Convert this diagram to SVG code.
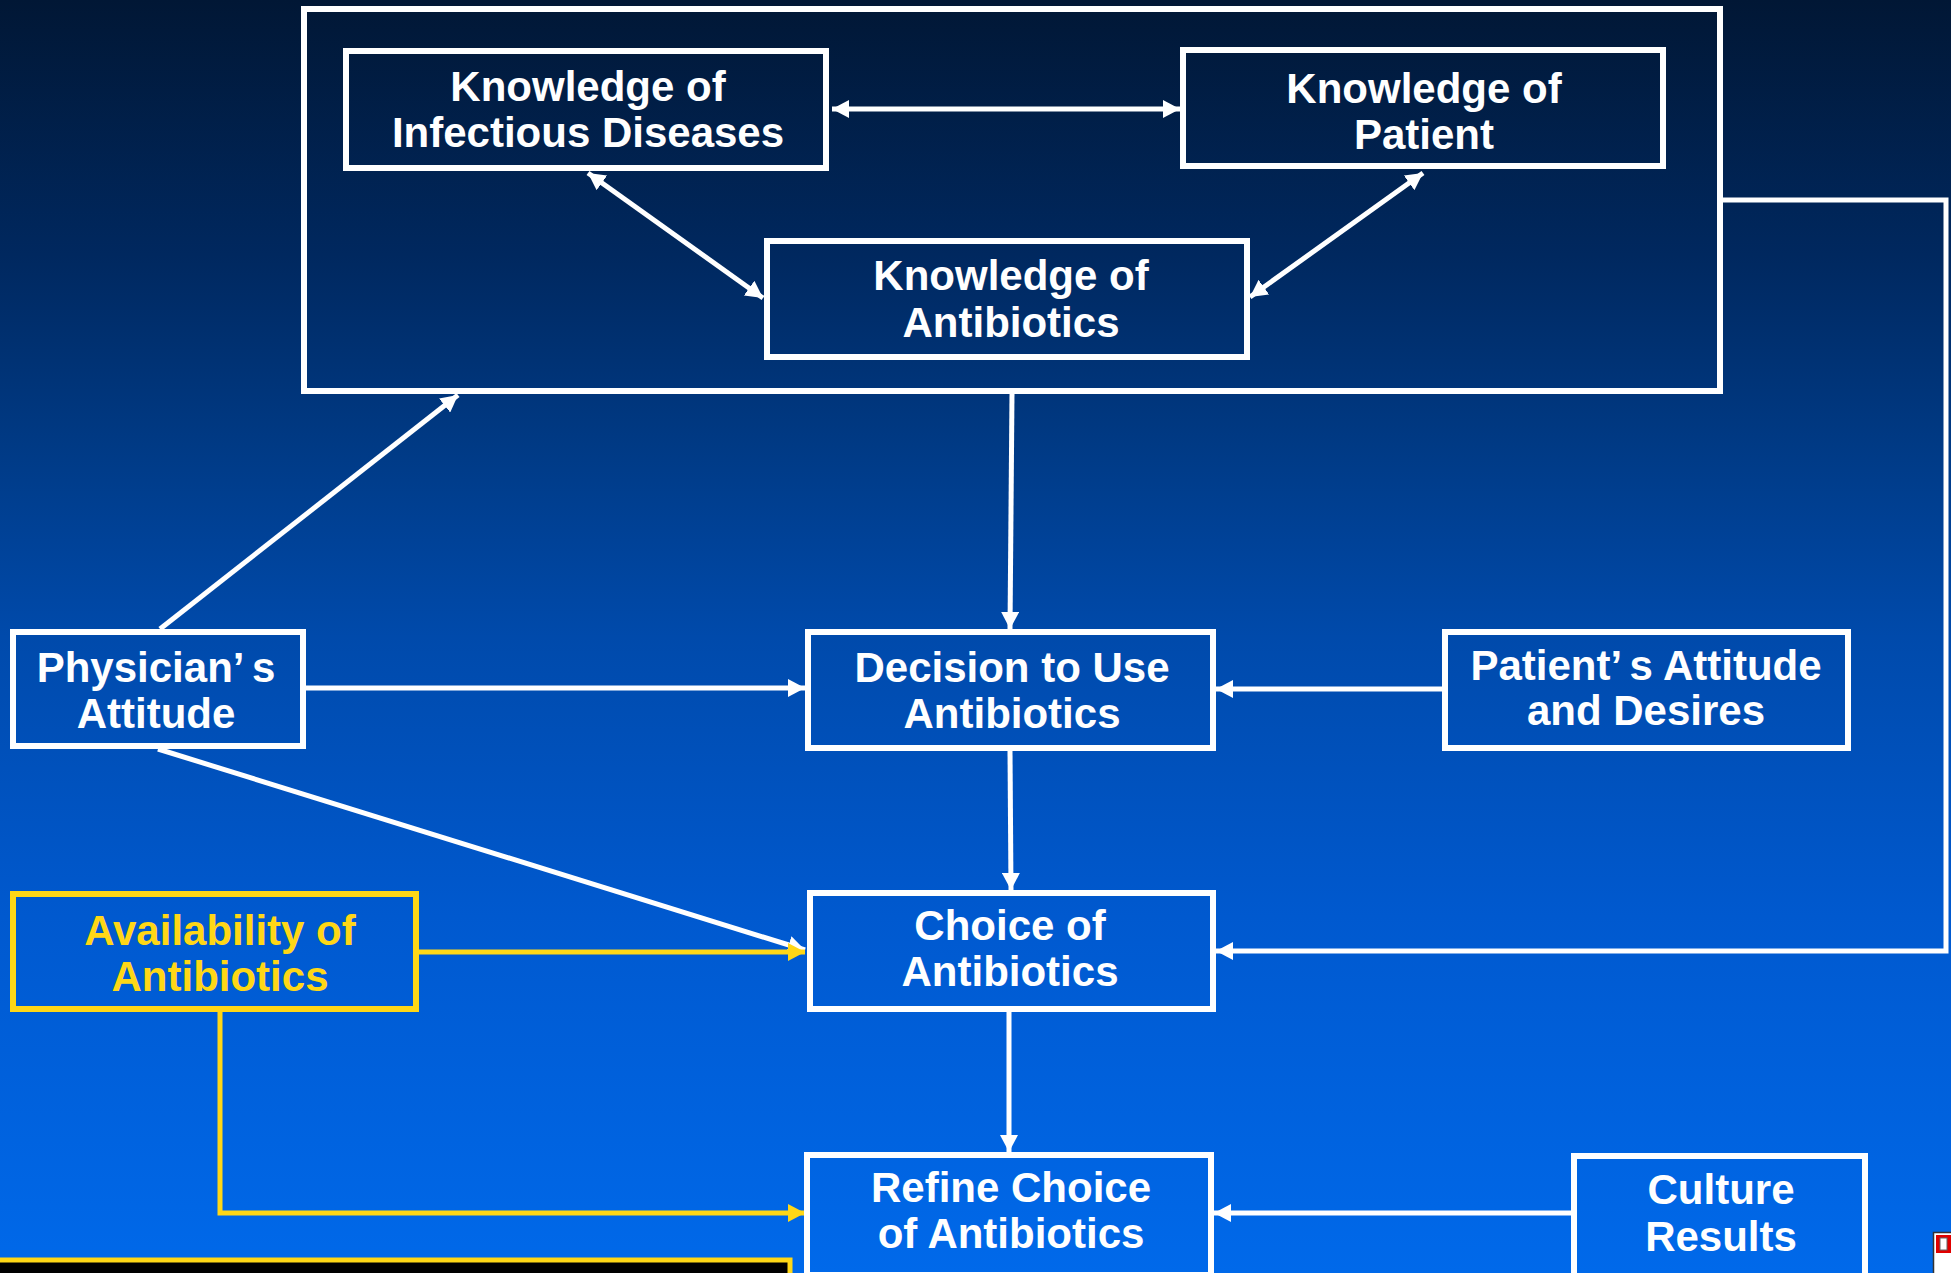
<svg xmlns="http://www.w3.org/2000/svg" width="1951" height="1273" viewBox="0 0 1951 1273">
<defs>
<linearGradient id="bg" x1="0" y1="0" x2="0" y2="1">
<stop offset="0" stop-color="#011735"/>
<stop offset="0.2" stop-color="#00285f"/>
<stop offset="0.35" stop-color="#003a85"/>
<stop offset="0.5" stop-color="#004aab"/>
<stop offset="0.72" stop-color="#0059cf"/>
<stop offset="1" stop-color="#0069ea"/>
</linearGradient>
<marker id="aw" markerUnits="userSpaceOnUse" markerWidth="18" markerHeight="18" refX="17" refY="9" orient="auto-start-reverse" viewBox="0 0 18 18">
<path d="M0,0 L17,9 L0,18 Z" fill="#ffffff"/>
</marker>
<marker id="ay" markerUnits="userSpaceOnUse" markerWidth="18" markerHeight="18" refX="17" refY="9" orient="auto" viewBox="0 0 18 18">
<path d="M0,0 L17,9 L0,18 Z" fill="#ffd716"/>
</marker>
</defs>
<style>
.box{fill:none;stroke:#ffffff;stroke-width:6}
.ybox{fill:none;stroke:#ffd716;stroke-width:6}
.t{font-family:"Liberation Sans",Arial,sans-serif;font-weight:bold;font-size:42px;fill:#ffffff;text-anchor:middle}
.ty{fill:#ffd716}
.c{fill:none;stroke:#ffffff;stroke-width:5}
.cy{fill:none;stroke:#ffd716;stroke-width:5}
</style>
<rect x="0" y="0" width="1951" height="1273" fill="url(#bg)"/>

<g id="knowledge-group">
<rect class="box" x="304" y="9" width="1416" height="382"/>
</g>

<g id="connectors">
<line class="c" x1="832" y1="109" x2="1180" y2="109" marker-start="url(#aw)" marker-end="url(#aw)"/>
<line class="c" x1="588" y1="173" x2="763" y2="298" marker-start="url(#aw)" marker-end="url(#aw)"/>
<line class="c" x1="1250" y1="297" x2="1423" y2="173" marker-start="url(#aw)" marker-end="url(#aw)"/>
<line class="c" x1="1012" y1="393" x2="1010" y2="629" marker-end="url(#aw)"/>
<line class="c" x1="160" y1="629" x2="458" y2="395" marker-end="url(#aw)"/>
<line class="c" x1="306" y1="688" x2="805" y2="688" marker-end="url(#aw)"/>
<line class="c" x1="1442" y1="689" x2="1216" y2="689" marker-end="url(#aw)"/>
<line class="c" x1="1010" y1="751" x2="1011" y2="890" marker-end="url(#aw)"/>
<line class="c" x1="158" y1="749" x2="805" y2="950" marker-end="url(#aw)"/>
<polyline class="c" points="1723,200 1946,200 1946,951 1216,951" marker-end="url(#aw)"/>
<line class="c" x1="1009" y1="1012" x2="1009" y2="1152" marker-end="url(#aw)"/>
<line class="c" x1="1571" y1="1213" x2="1214" y2="1213" marker-end="url(#aw)"/>
<line class="cy" x1="419" y1="952" x2="805" y2="952" marker-end="url(#ay)"/>
<polyline class="cy" points="220,1012 220,1213 805,1213" marker-end="url(#ay)"/>
</g>

<g id="knowledge-infectious-diseases">
<rect class="box" x="346" y="51" width="480" height="117"/>
<text class="t" x="588" y="101">Knowledge of</text>
<text class="t" x="588" y="147">Infectious Diseases</text>
</g>

<g id="knowledge-patient">
<rect class="box" x="1183" y="50" width="480" height="116"/>
<text class="t" x="1424" y="103">Knowledge of</text>
<text class="t" x="1424" y="149">Patient</text>
</g>

<g id="knowledge-antibiotics">
<rect class="box" x="767" y="241" width="480" height="116"/>
<text class="t" x="1011" y="290">Knowledge of</text>
<text class="t" x="1011" y="337">Antibiotics</text>
</g>

<g id="physicians-attitude">
<rect class="box" x="13" y="632" width="290" height="114"/>
<text class="t" x="156" y="682">Physician’<tspan dx="9">s</tspan></text>
<text class="t" x="156" y="728">Attitude</text>
</g>

<g id="decision-to-use">
<rect class="box" x="808" y="632" width="405" height="116"/>
<text class="t" x="1012" y="682">Decision to Use</text>
<text class="t" x="1012" y="728">Antibiotics</text>
</g>

<g id="patients-attitude">
<rect class="box" x="1445" y="632" width="403" height="116"/>
<text class="t" x="1646" y="680">Patient’<tspan dx="9">s Attitude</tspan></text>
<text class="t" x="1646" y="725">and Desires</text>
</g>

<g id="availability">
<rect class="ybox" x="13" y="894" width="403" height="115"/>
<text class="t ty" x="220" y="945">Availability of</text>
<text class="t ty" x="220" y="991">Antibiotics</text>
</g>

<g id="choice-of-antibiotics">
<rect class="box" x="810" y="893" width="403" height="116"/>
<text class="t" x="1010" y="940">Choice of</text>
<text class="t" x="1010" y="986">Antibiotics</text>
</g>

<g id="refine-choice">
<rect class="box" x="807" y="1155" width="404" height="120"/>
<text class="t" x="1011" y="1202">Refine Choice</text>
<text class="t" x="1011" y="1248">of Antibiotics</text>
</g>

<g id="culture-results">
<rect class="box" x="1574" y="1156" width="291" height="120"/>
<text class="t" x="1721" y="1204">Culture</text>
<text class="t" x="1721" y="1251">Results</text>
</g>

<g id="bottom-box">
<rect x="-10" y="1260" width="800" height="40" fill="#000000" stroke="#ffd716" stroke-width="5"/>
</g>

<g id="corner-icon">
<rect x="1933.5" y="1232.5" width="30" height="50" fill="#ffffff" stroke="#333333" stroke-width="1.5"/>
<rect x="1936" y="1235" width="20" height="18" fill="#e00000"/>
<rect x="1940" y="1238" width="7" height="12" fill="#ffffff" stroke="#666666" stroke-width="1"/>
</g>
</svg>
